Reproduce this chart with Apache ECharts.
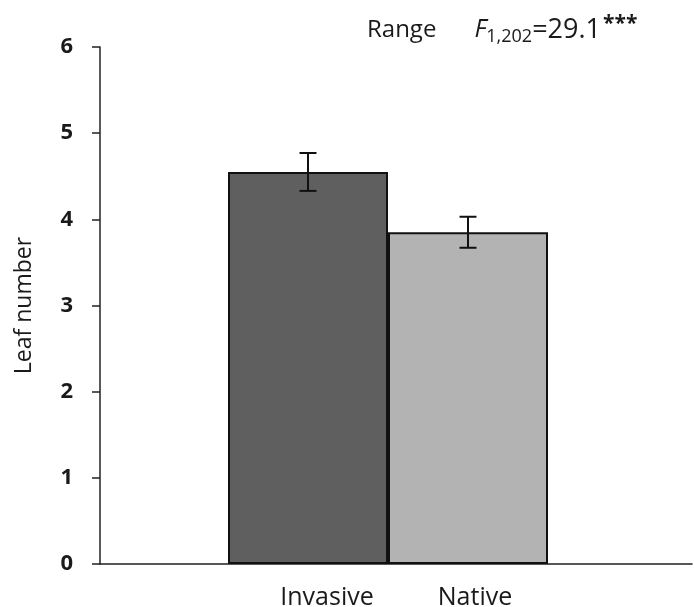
<!DOCTYPE html>
<html><head><meta charset="utf-8">
<script src="https://cdn.jsdelivr.net/npm/echarts@6/dist/echarts.min.js"></script>
<style>html,body{margin:0;padding:0;background:#fff}#c{width:694px;height:607px}</style>
</head><body><div id="c"></div>
<script>
const categories = ['Invasive', 'Native'];
const leafMeans = [4.55, 3.85];
const leafErrors = [0.22, 0.18];
const barColors = ['#5f5f5f', '#b3b3b3'];
const yTicks = [0, 1, 2, 3, 4, 5, 6];

const FONT = 'Open Sans';
const TXT = '#1a1a1a';
const chart = echarts.init(document.getElementById('c'));
chart.setOption({
  animation: false,
  textStyle: { fontFamily: FONT },
  title: {
    left: 362, top: 9,
    text: '{a|Range}{g|}{f|F}{s|1,202}{n|=29.1}{p|***}',
    textStyle: {
      fontWeight: 'normal',
      rich: {
        a: { fontFamily: FONT, fontSize: 24, fontWeight: 'normal', color: TXT },
        g: { width: 38 },
        f: { fontFamily: FONT, fontSize: 25, fontStyle: 'italic', fontWeight: 'normal', color: TXT },
        s: { fontFamily: FONT, fontSize: 18, fontWeight: 'normal', color: TXT, verticalAlign: 'bottom', padding: [14, 0, 0, 0] },
        n: { fontFamily: FONT, fontSize: 27, fontWeight: 'normal', color: TXT },
        p: { fontFamily: FONT, fontSize: 21, fontWeight: 'bold', color: TXT, verticalAlign: 'top', padding: [0, 0, 10, 2] }
      }
    }
  },
  grid: [
    { left: 100, right: 2, top: 47, bottom: 43, outerBoundsMode: 'none', containLabel: false },
    { left: 228, width: 320, top: 47, bottom: 43, outerBoundsMode: 'none', containLabel: false }
  ],
  xAxis: [
    { gridIndex: 0, type: 'value', min: 0, max: 1,
      axisLine: { show: true, lineStyle: { color: '#222', width: 1.5 } },
      axisTick: { show: false }, axisLabel: { show: false }, splitLine: { show: false } },
    { gridIndex: 1, type: 'category', data: categories,
      axisLine: { show: false }, axisTick: { show: false }, splitLine: { show: false },
      axisLabel: { interval: 0, hideOverlap: false, margin: 21, fontSize: 24, color: TXT, fontFamily: FONT,
        formatter: (v, i) => i === 0 ? '{a|' + v + '}' : '{b|' + v + '}',
        rich: {
          a: { fontSize: 25, color: TXT, fontFamily: FONT, padding: [0, 0, 0, 38] },
          b: { fontSize: 25, color: TXT, fontFamily: FONT, padding: [0, 0, 0, 14] }
        } } }
  ],
  yAxis: [
    { gridIndex: 0, type: 'value', min: 0, max: 6, interval: 1,
      name: 'Leaf number', nameLocation: 'middle', nameGap: 64, nameRotate: 90,
      nameTextStyle: { fontSize: 23, color: TXT, fontFamily: FONT },
      axisLine: { show: true, lineStyle: { color: '#222', width: 1.5 } },
      axisTick: { show: true, inside: false, length: 8, lineStyle: { color: '#222', width: 1.5 } },
      axisLabel: { margin: 27, fontSize: 22, fontWeight: 'bold', color: TXT, fontFamily: FONT,
        formatter: v => yTicks.includes(v) ? String(v) : '' },
      splitLine: { show: false } },
    { gridIndex: 1, type: 'value', min: 0, max: 6, interval: 1, show: false }
  ],
  series: [
    { type: 'bar', xAxisIndex: 1, yAxisIndex: 1, barWidth: '100%',
      data: leafMeans.map((v, i) => ({ value: v, itemStyle: { color: barColors[i] } })),
      itemStyle: { borderColor: '#111', borderWidth: 2 } },
    { type: 'custom', xAxisIndex: 1, yAxisIndex: 1, z: 5,
      data: leafMeans.map((v, i) => [i, v - leafErrors[i], v + leafErrors[i]]),
      renderItem: function (params, api) {
        const lo = api.coord([api.value(0), api.value(1)]);
        const hi = api.coord([api.value(0), api.value(2)]);
        const x = lo[0], hw = 8.5;
        const st = { stroke: '#111', lineWidth: 2 };
        return { type: 'group', children: [
          { type: 'line', shape: { x1: x, y1: lo[1], x2: x, y2: hi[1] }, style: st },
          { type: 'line', shape: { x1: x - hw, y1: lo[1], x2: x + hw, y2: lo[1] }, style: st },
          { type: 'line', shape: { x1: x - hw, y1: hi[1], x2: x + hw, y2: hi[1] }, style: st }
        ] };
      } }
  ]
});
</script></body></html>
